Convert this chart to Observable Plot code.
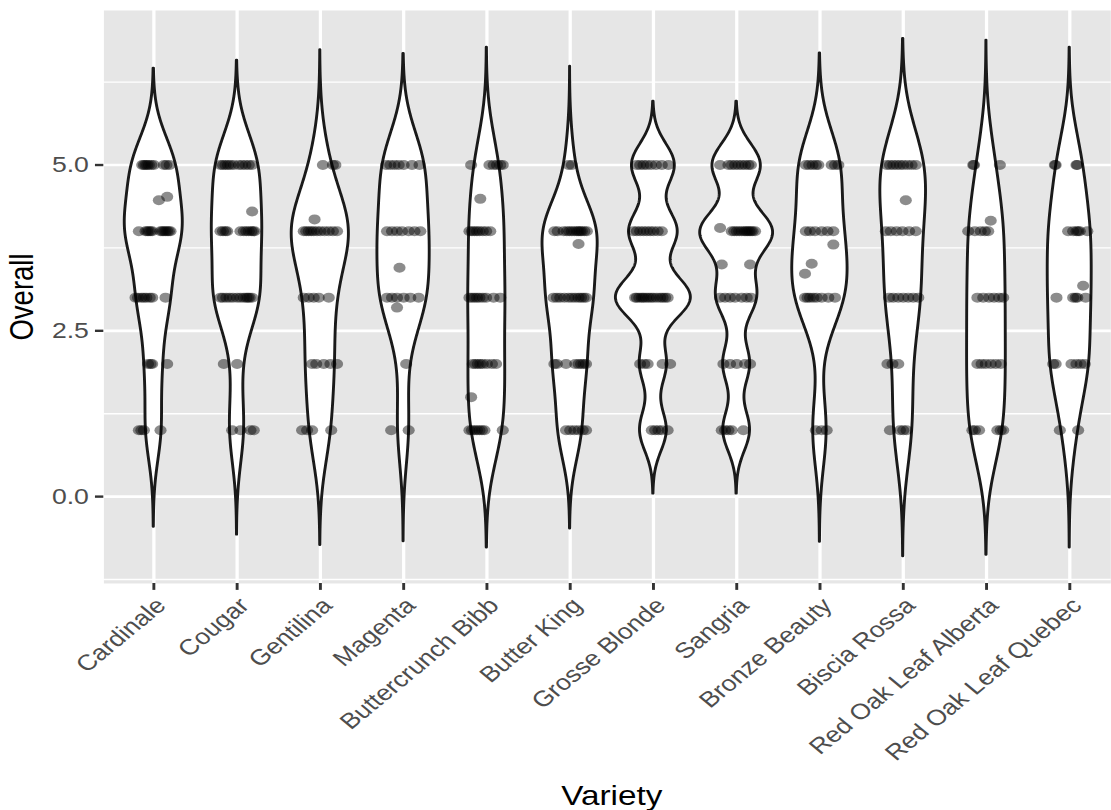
<!DOCTYPE html>
<html>
<head>
<meta charset="utf-8">
<script src="https://cdn.jsdelivr.net/npm/d3@7"></script>
<script src="https://cdn.jsdelivr.net/npm/@observablehq/plot@0.6"></script>
<style>
html, body { margin: 0; padding: 0; background: #fff; }
#wrap { width: 1111px; height: 810px; overflow: hidden; position: relative; }
#wrap svg { transform: scaleX(1.21); transform-origin: 0 0; display: block; max-width: none; }
</style>
</head>
<body>
<div id="wrap"></div>
<script>
// Categories (x axis order)
const varieties = ["Cardinale", "Cougar", "Gentilina", "Magenta", "Buttercrunch Bibb", "Butter King",
  "Grosse Blonde", "Sangria", "Bronze Beauty", "Biscia Rossa", "Red Oak Leaf Alberta", "Red Oak Leaf Quebec"];

// Ratings per variety: [rating, [horizontal jitter of each point, in category units]]
const cardinale = [[1, [-0.18, -0.15, -0.12, 0.08]], [2, [-0.07, -0.04, -0.02, 0.16]],
  [3, [-0.22, -0.19, -0.15, -0.12, -0.09, -0.05, -0.02, 0.14]],
  [4, [-0.18, -0.1, -0.08, -0.06, -0.04, -0.02, 0.08, 0.1, 0.12, 0.14, 0.16, 0.18, 0.2]],
  [4.47, [0.06]], [4.52, [0.16]],
  [5, [-0.14, -0.12, -0.1, -0.08, -0.06, -0.03, 0.0, 0.12, 0.15, 0.19]]];
const cougar = [[1, [-0.06, 0.04, 0.16, 0.2]], [2, [-0.16, 0.0]],
  [3, [-0.2, -0.17, -0.13, -0.09, -0.05, 0.0, 0.04, 0.08, 0.11, 0.13, 0.15, 0.18]],
  [4, [-0.2, -0.17, -0.14, -0.12, 0.04, 0.08, 0.11, 0.14, 0.17, 0.19, 0.21]], [4.3, [0.18]],
  [5, [-0.2, -0.17, -0.14, -0.11, -0.08, -0.04, 0.02, 0.06, 0.1, 0.14, 0.18]]];
const gentilina = [[1, [-0.22, -0.16, -0.1, 0.13]], [2, [-0.1, -0.05, 0.04, 0.12, 0.2]],
  [3, [-0.2, -0.14, -0.08, -0.02, 0.1]],
  [4, [-0.2, -0.17, -0.14, -0.11, -0.08, -0.04, 0.0, 0.05, 0.1, 0.15, 0.2]],
  [4.18, [-0.07]], [5, [0.03, 0.15, 0.18]]];
const magenta = [[1, [-0.15, 0.06]], [2, [0.03]], [2.85, [-0.08]],
  [3, [-0.2, -0.14, -0.08, 0.0, 0.08, 0.18]], [3.45, [-0.05]],
  [4, [-0.2, -0.14, -0.08, -0.02, 0.06, 0.13, 0.2]],
  [5, [-0.21, -0.16, -0.11, -0.06, 0.0, 0.1, 0.19]]];
const buttercrunchBibb = [[1, [-0.21, -0.18, -0.15, -0.12, -0.09, -0.06, -0.03, 0.19]], [1.5, [-0.19]],
  [2, [-0.17, -0.14, -0.11, -0.08, -0.05, 0.0, 0.06, 0.11]],
  [3, [-0.21, -0.18, -0.15, -0.12, -0.09, -0.05, -0.01, 0.08, 0.16]],
  [4, [-0.21, -0.18, -0.15, -0.12, -0.09, -0.05, -0.01, 0.04]], [4.49, [-0.08]],
  [5, [-0.19, 0.03, 0.08, 0.12, 0.16, 0.19]]];
const butterKing = [[1, [-0.05, 0.0, 0.05, 0.1, 0.15, 0.19]],
  [2, [-0.19, -0.16, -0.05, 0.06, 0.1, 0.13, 0.16, 0.19]],
  [3, [-0.2, -0.16, -0.12, -0.07, -0.02, 0.02, 0.06, 0.1, 0.13, 0.16, 0.19]], [3.81, [0.1]],
  [4, [-0.19, -0.15, -0.08, -0.04, -0.01, 0.02, 0.05, 0.08, 0.1, 0.12, 0.14, 0.17, 0.2]],
  [5, [-0.02, 0.02]]];
const grosseBlonde = [[1, [-0.02, 0.02, 0.06, 0.1, 0.17]], [2, [-0.16, -0.11, -0.07, 0.11, 0.2]],
  [3, [-0.22, -0.2, -0.17, -0.14, -0.12, -0.09, -0.06, -0.03, 0.0, 0.04, 0.08, 0.11, 0.14, 0.17]],
  [4, [-0.24, -0.2, -0.16, -0.12, -0.08, -0.04, 0.0, 0.05, 0.1]],
  [5, [-0.2, -0.16, -0.12, -0.08, -0.03, 0.03, 0.1, 0.18]]];
const sangria = [[1, [-0.18, -0.14, -0.1, -0.06, 0.08]], [2, [-0.16, -0.08, 0.0, 0.1, 0.16]],
  [3, [-0.2, -0.14, -0.08, -0.02, 0.06, 0.12, 0.17]], [3.5, [-0.18, 0.16]],
  [4, [-0.06, -0.03, 0.0, 0.03, 0.06, 0.09, 0.11, 0.13, 0.15, 0.17, 0.19, 0.22]], [4.05, [-0.2]],
  [5, [-0.2, -0.1, -0.06, -0.02, 0.02, 0.06, 0.1, 0.14, 0.17]]];
const bronzeBeauty = [[1, [-0.05, 0.02, 0.08]],
  [3, [-0.18, -0.15, -0.12, -0.08, -0.04, 0.02, 0.1, 0.18]],
  [3.36, [-0.18]], [3.51, [-0.1]], [3.8, [0.16]],
  [4, [-0.17, -0.12, -0.06, 0.02, 0.09, 0.16]],
  [5, [-0.17, -0.13, -0.09, -0.05, -0.02, 0.14, 0.18, 0.22]]];
const bisciaRossa = [[1, [-0.16, -0.04, 0.0, 0.04]], [2, [-0.19, -0.13, -0.06]],
  [3, [-0.17, -0.12, -0.06, 0.0, 0.06, 0.12, 0.18]],
  [4, [-0.21, -0.15, -0.08, -0.01, 0.07, 0.15]], [4.47, [0.03]],
  [5, [-0.2, -0.16, -0.12, -0.08, -0.04, 0.0, 0.05, 0.1, 0.15]]];
const redOakLeafAlberta = [[1, [-0.17, -0.14, -0.09, 0.13, 0.17, 0.2]],
  [2, [-0.11, -0.06, -0.01, 0.05, 0.11, 0.17]],
  [3, [-0.11, -0.04, 0.03, 0.09, 0.15, 0.2]],
  [4, [-0.22, -0.14, -0.07, -0.02, 0.02]], [4.16, [0.05]],
  [5, [-0.16, -0.15, 0.16]]];
const redOakLeafQuebec = [[1, [-0.12, 0.1]],
  [2, [-0.2, -0.17, 0.02, 0.08, 0.13, 0.18]],
  [3, [-0.16, 0.04, 0.07, 0.09, 0.19]], [3.18, [0.16]],
  [4, [-0.02, 0.04, 0.08, 0.1, 0.12, 0.21]],
  [5, [-0.18, -0.17, 0.08, 0.09]]];

// Axis ticks and range
const yMajor = [0, 2.5, 5];
const yMinor = [-1.25, 1.25, 3.75, 6.25];
const yRange = [-1.31, 7.33];

const series = [cardinale, cougar, gentilina, magenta, buttercrunchBibb, butterKing,
  grosseBlonde, sangria, bronzeBeauty, bisciaRossa, redOakLeafAlberta, redOakLeafQuebec];

// Build points and violin densities (Gaussian KDE, bw.nrd0, untrimmed ±3 bw, area scaling)
const points = [];
const groups = series.map((s, i) => {
  const values = [];
  for (const [v, offs] of s) for (const o of offs) {
    values.push(v);
    points.push({variety: varieties[i], pos: i + 1 + o, value: v});
  }
  values.sort(d3.ascending);
  const n = values.length;
  const iqr = d3.quantile(values, 0.75) - d3.quantile(values, 0.25);
  const lo = Math.min(d3.deviation(values), iqr / 1.34);
  const bw = 0.9 * lo * Math.pow(n, -0.2);
  const from = values[0] - 3 * bw, to = values[n - 1] + 3 * bw;
  const grid = d3.range(512).map(k => from + (to - from) * k / 511);
  const dens = grid.map(y => d3.sum(values, v => Math.exp(-0.5 * ((y - v) / bw) ** 2)) / (n * bw * Math.sqrt(2 * Math.PI)));
  return {i, grid, dens};
});
const dmax = d3.max(groups, g => d3.max(g.dens));
const violins = [];
for (const g of groups) {
  g.grid.forEach((y, k) => {
    const h = 0.45 * g.dens[k] / dmax;
    violins.push({variety: varieties[g.i], y, x1: g.i + 1 - h, x2: g.i + 1 + h});
  });
}

const S = 1.21;               // horizontal stretch of the reference
const W = 1111 / S;
const left = 103.3 / S;       // panel left edge
const right = (103.3 + 12.2 * 83.27) / S;

const chart = Plot.plot({
  width: W,
  height: 810,
  marginLeft: left,
  marginRight: W - right,
  marginTop: 10,
  marginBottom: 810 - 583,
  style: {fontFamily: "'Liberation Sans', Arial, Helvetica, sans-serif", background: "white", overflow: "hidden"},
  x: {domain: [0.4, 12.6], axis: null},
  y: {domain: yRange, axis: null},
  marks: [
    Plot.frame({fill: "#e6e6e6", stroke: null}),
    Plot.ruleY(yMinor, {stroke: "white", strokeWidth: 1.4}),
    Plot.ruleY(yMajor, {stroke: "white", strokeWidth: 2.7}),
    Plot.ruleX(d3.range(1, 13), {stroke: "white", strokeWidth: 2.7}),
    Plot.areaX(violins, {x1: "x1", x2: "x2", y: "y", z: "variety", fill: "white", stroke: "#1a1a1a", strokeWidth: 2.4}),
    Plot.dot(points, {x: "pos", y: "value", r: 5, fill: "black", fillOpacity: 0.45, stroke: "none"}),
    Plot.axisY(yMajor, {tickFormat: d => d.toFixed(1), tickSize: 6.9, tickPadding: 5.5, fontSize: 22,
      stroke: "#333", strokeWidth: 2.4, fill: "#4d4d4d", label: null}),
    Plot.axisX(d3.range(1, 13), {tickFormat: d => varieties[d - 1], tickRotate: -45, textAnchor: "end", lineAnchor: "top",
      tickSize: 6.9, tickPadding: 5.5, fontSize: 22, stroke: "#333", strokeWidth: 2.4, fill: "#4d4d4d", label: null}),
    Plot.text(["Overall"], {frameAnchor: "left", dx: -67.5, rotate: -90, fontSize: 27.5, fill: "black", textAnchor: "middle", lineAnchor: "middle"}),
    Plot.text(["Variety"], {frameAnchor: "bottom", dy: 213, fontSize: 27.5, fill: "black", textAnchor: "middle", lineAnchor: "middle"})
  ]
});
document.getElementById("wrap").appendChild(chart);
</script>
</body>
</html>
